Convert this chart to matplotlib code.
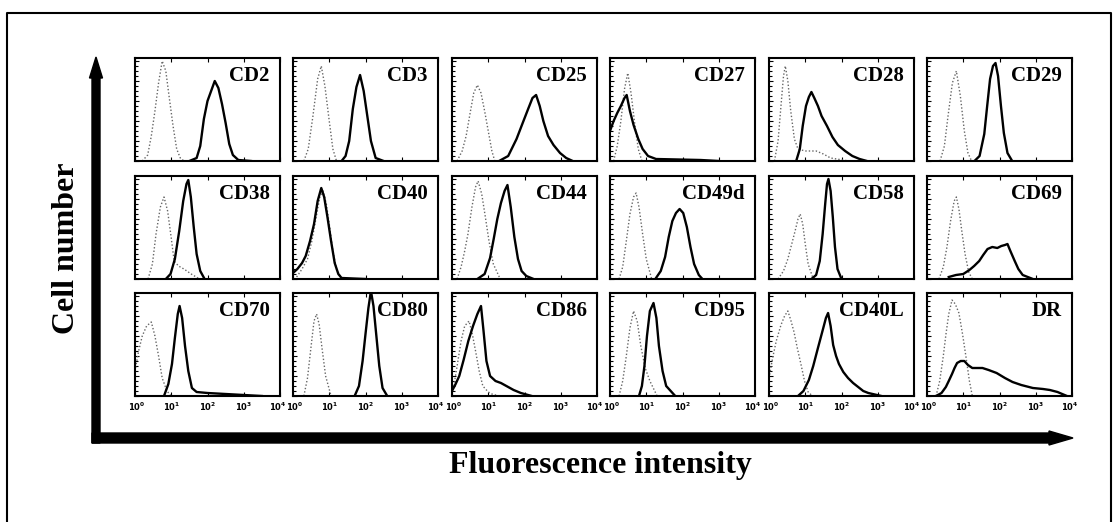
import matplotlib.pyplot as plt
import matplotlib.transforms as mtransforms
import numpy as np

plt.rcParams['font.family'] = ['Liberation Serif', 'DejaVu Serif']

markers = ['CD2', 'CD3', 'CD25', 'CD27', 'CD28', 'CD29',
           'CD38', 'CD40', 'CD44', 'CD49d', 'CD58', 'CD69',
           'CD70', 'CD80', 'CD86', 'CD95', 'CD40L', 'DR']
decade_labels = [r'$\mathbf{10^{%d}}$' % k for k in range(5)]

# points: (log10 fluorescence, relative cell count)
# iso = dotted control curve, stain = solid curve
cd2_iso = [(0.2, 0), (0.35, 0.06), (0.45, 0.25), (0.55, 0.5), (0.65, 0.78), (0.75, 1.0), (0.85, 0.9), (0.95, 0.62), (1.05, 0.35), (1.15, 0.12), (1.25, 0.03), (1.35, 0)]
cd2_stain = [(1.5, 0), (1.7, 0.03), (1.8, 0.15), (1.9, 0.42), (2.0, 0.6), (2.1, 0.7), (2.2, 0.8), (2.3, 0.73), (2.4, 0.57), (2.5, 0.38), (2.6, 0.17), (2.7, 0.06), (2.85, 0.01), (3.2, 0)]
cd3_iso = [(0.3, 0), (0.42, 0.12), (0.55, 0.45), (0.68, 0.82), (0.78, 0.95), (0.88, 0.75), (1.0, 0.4), (1.1, 0.12), (1.2, 0)]
cd3_stain = [(1.34, 0), (1.45, 0.05), (1.55, 0.2), (1.65, 0.52), (1.75, 0.74), (1.85, 0.86), (1.95, 0.7), (2.05, 0.45), (2.15, 0.2), (2.28, 0.03), (2.5, 0)]
cd25_iso = [(0.14, 0), (0.28, 0.1), (0.39, 0.25), (0.5, 0.48), (0.6, 0.68), (0.7, 0.76), (0.8, 0.68), (0.9, 0.5), (1.0, 0.3), (1.1, 0.1), (1.18, 0)]
cd25_stain = [(1.3, 0), (1.55, 0.05), (1.78, 0.22), (1.95, 0.38), (2.1, 0.52), (2.22, 0.63), (2.32, 0.66), (2.42, 0.55), (2.52, 0.4), (2.65, 0.25), (2.8, 0.16), (2.98, 0.08), (3.15, 0.03), (3.33, 0)]
cd27_iso = [(0.1, 0), (0.2, 0.15), (0.3, 0.4), (0.4, 0.72), (0.49, 0.88), (0.58, 0.68), (0.68, 0.38), (0.78, 0.12), (0.88, 0)]
cd27_stain = [(0.0, 0.3), (0.1, 0.4), (0.2, 0.48), (0.3, 0.55), (0.4, 0.63), (0.46, 0.66), (0.55, 0.5), (0.65, 0.36), (0.78, 0.22), (0.9, 0.12), (1.05, 0.05), (1.27, 0.02), (2.5, 0.01), (3.0, 0)]
cd28_iso = [(0.15, 0), (0.25, 0.2), (0.33, 0.55), (0.4, 0.85), (0.45, 0.95), (0.52, 0.8), (0.6, 0.5), (0.7, 0.22), (0.8, 0.12), (1.0, 0.1), (1.3, 0.1), (1.5, 0.07), (1.7, 0.03), (2.2, 0)]
cd28_stain = [(0.75, 0), (0.85, 0.12), (0.93, 0.35), (1.02, 0.55), (1.1, 0.64), (1.17, 0.69), (1.25, 0.63), (1.35, 0.55), (1.45, 0.45), (1.6, 0.35), (1.75, 0.24), (1.9, 0.16), (2.1, 0.1), (2.3, 0.05), (2.5, 0.02), (2.7, 0)]
cd29_iso = [(0.36, 0), (0.48, 0.15), (0.58, 0.45), (0.7, 0.78), (0.81, 0.9), (0.92, 0.65), (1.03, 0.3), (1.13, 0.08), (1.23, 0)]
cd29_stain = [(1.31, 0), (1.45, 0.05), (1.58, 0.27), (1.66, 0.55), (1.74, 0.82), (1.82, 0.95), (1.89, 0.98), (1.96, 0.85), (2.04, 0.55), (2.12, 0.28), (2.22, 0.08), (2.35, 0)]
cd38_iso = [(0.36, 0), (0.48, 0.15), (0.58, 0.45), (0.7, 0.72), (0.8, 0.82), (0.9, 0.68), (1.0, 0.41), (1.08, 0.18), (1.2, 0.13), (1.35, 0.1), (1.55, 0.05), (1.78, 0)]
cd38_stain = [(0.85, 0), (0.98, 0.05), (1.1, 0.2), (1.22, 0.48), (1.33, 0.78), (1.42, 0.95), (1.47, 0.99), (1.54, 0.82), (1.62, 0.52), (1.7, 0.25), (1.8, 0.08), (1.92, 0)]
cd40_iso = [(0.1, 0.02), (0.25, 0.1), (0.4, 0.2), (0.52, 0.38), (0.63, 0.6), (0.74, 0.82), (0.83, 0.88), (0.92, 0.75), (1.0, 0.55), (1.1, 0.28), (1.2, 0.1), (1.3, 0.03), (1.4, 0)]
cd40_stain = [(0.0, 0.06), (0.12, 0.1), (0.25, 0.16), (0.35, 0.23), (0.47, 0.38), (0.58, 0.55), (0.68, 0.78), (0.78, 0.91), (0.86, 0.82), (0.95, 0.62), (1.05, 0.38), (1.15, 0.16), (1.25, 0.05), (1.34, 0.01), (2.0, 0)]
cd44_iso = [(0.14, 0), (0.25, 0.12), (0.35, 0.28), (0.44, 0.45), (0.55, 0.72), (0.65, 0.92), (0.72, 0.98), (0.82, 0.85), (0.92, 0.62), (1.02, 0.38), (1.14, 0.15), (1.33, 0)]
cd44_stain = [(0.7, 0), (0.9, 0.05), (1.05, 0.21), (1.15, 0.4), (1.25, 0.6), (1.35, 0.76), (1.45, 0.88), (1.53, 0.94), (1.62, 0.72), (1.72, 0.42), (1.82, 0.2), (1.92, 0.08), (2.05, 0.03), (2.25, 0)]
cd49d_iso = [(0.25, 0), (0.35, 0.12), (0.45, 0.38), (0.55, 0.65), (0.65, 0.82), (0.72, 0.86), (0.8, 0.72), (0.9, 0.45), (1.0, 0.2), (1.15, 0)]
cd49d_stain = [(1.25, 0), (1.4, 0.08), (1.52, 0.22), (1.62, 0.42), (1.72, 0.58), (1.82, 0.66), (1.92, 0.7), (2.02, 0.66), (2.12, 0.52), (2.22, 0.32), (2.32, 0.15), (2.45, 0.04), (2.55, 0)]
cd58_iso = [(0.25, 0), (0.4, 0.08), (0.52, 0.2), (0.62, 0.34), (0.72, 0.48), (0.8, 0.6), (0.86, 0.65), (0.93, 0.55), (1.0, 0.35), (1.08, 0.15), (1.22, 0)]
cd58_stain = [(1.17, 0), (1.3, 0.04), (1.4, 0.18), (1.48, 0.45), (1.55, 0.75), (1.6, 0.95), (1.64, 1.0), (1.7, 0.88), (1.76, 0.62), (1.82, 0.32), (1.89, 0.1), (2.0, 0)]
cd69_iso = [(0.33, 0), (0.45, 0.12), (0.55, 0.32), (0.65, 0.58), (0.75, 0.78), (0.81, 0.82), (0.88, 0.7), (0.96, 0.48), (1.05, 0.25), (1.15, 0.07), (1.25, 0)]
cd69_stain = [(0.6, 0.02), (0.8, 0.04), (1.0, 0.05), (1.17, 0.09), (1.3, 0.13), (1.44, 0.18), (1.55, 0.24), (1.67, 0.3), (1.8, 0.32), (1.94, 0.31), (2.05, 0.33), (2.15, 0.34), (2.22, 0.35), (2.3, 0.28), (2.42, 0.18), (2.52, 0.1), (2.64, 0.04), (2.92, 0)]
cd70_iso = [(0.0, 0.25), (0.1, 0.45), (0.2, 0.6), (0.32, 0.7), (0.45, 0.74), (0.55, 0.6), (0.65, 0.4), (0.75, 0.18), (0.88, 0.05), (1.0, 0)]
cd70_stain = [(0.8, 0), (0.92, 0.12), (1.02, 0.32), (1.1, 0.58), (1.18, 0.82), (1.23, 0.9), (1.3, 0.78), (1.38, 0.5), (1.47, 0.25), (1.57, 0.08), (1.7, 0.04), (2.0, 0.03), (2.5, 0.02), (3.0, 0.01), (3.5, 0)]
cd80_iso = [(0.3, 0), (0.4, 0.18), (0.5, 0.5), (0.58, 0.75), (0.65, 0.82), (0.72, 0.72), (0.8, 0.48), (0.9, 0.2), (1.05, 0)]
cd80_stain = [(1.7, 0), (1.82, 0.1), (1.92, 0.35), (2.0, 0.62), (2.08, 0.88), (2.15, 1.05), (2.22, 0.9), (2.3, 0.6), (2.38, 0.3), (2.47, 0.08), (2.6, 0)]
cd86_iso = [(0.05, 0.1), (0.15, 0.32), (0.25, 0.55), (0.35, 0.7), (0.47, 0.75), (0.56, 0.62), (0.65, 0.45), (0.75, 0.25), (0.85, 0.1), (1.0, 0.04), (1.1, 0.02), (1.3, 0)]
cd86_stain = [(0.0, 0.05), (0.1, 0.12), (0.2, 0.2), (0.32, 0.36), (0.45, 0.55), (0.58, 0.7), (0.7, 0.82), (0.8, 0.9), (0.87, 0.65), (0.95, 0.35), (1.05, 0.2), (1.2, 0.15), (1.35, 0.13), (1.5, 0.1), (1.7, 0.06), (1.9, 0.03), (2.2, 0)]
cd95_iso = [(0.25, 0), (0.35, 0.15), (0.45, 0.4), (0.55, 0.68), (0.65, 0.85), (0.75, 0.75), (0.85, 0.5), (0.97, 0.28), (1.1, 0.15), (1.3, 0)]
cd95_stain = [(0.8, 0), (0.88, 0.1), (0.95, 0.3), (1.02, 0.6), (1.1, 0.85), (1.2, 0.93), (1.28, 0.78), (1.35, 0.5), (1.45, 0.25), (1.55, 0.1), (1.8, 0)]
cd40l_iso = [(0.0, 0.18), (0.1, 0.38), (0.2, 0.55), (0.33, 0.71), (0.43, 0.8), (0.52, 0.85), (0.6, 0.76), (0.69, 0.64), (0.78, 0.48), (0.88, 0.32), (0.98, 0.15), (1.08, 0.04), (1.2, 0)]
cd40l_stain = [(0.8, 0), (0.95, 0.05), (1.1, 0.16), (1.22, 0.3), (1.35, 0.48), (1.49, 0.67), (1.57, 0.78), (1.63, 0.83), (1.7, 0.7), (1.77, 0.51), (1.85, 0.4), (1.93, 0.32), (2.05, 0.24), (2.18, 0.18), (2.32, 0.13), (2.46, 0.09), (2.6, 0.05), (2.74, 0.03), (3.1, 0)]
dr_iso = [(0.25, 0), (0.35, 0.15), (0.45, 0.4), (0.52, 0.61), (0.6, 0.82), (0.69, 0.96), (0.78, 0.92), (0.88, 0.83), (0.98, 0.62), (1.08, 0.38), (1.17, 0.15), (1.25, 0)]
dr_stain = [(0.25, 0), (0.4, 0.03), (0.52, 0.09), (0.6, 0.15), (0.69, 0.22), (0.76, 0.28), (0.83, 0.33), (0.93, 0.35), (1.03, 0.35), (1.13, 0.31), (1.25, 0.28), (1.4, 0.28), (1.53, 0.28), (1.7, 0.26), (1.92, 0.23), (2.15, 0.18), (2.36, 0.14), (2.6, 0.11), (2.92, 0.08), (3.2, 0.07), (3.39, 0.06), (3.6, 0.04), (3.86, 0)]

curves = {
    'CD2': (cd2_iso, cd2_stain), 'CD3': (cd3_iso, cd3_stain),
    'CD25': (cd25_iso, cd25_stain), 'CD27': (cd27_iso, cd27_stain),
    'CD28': (cd28_iso, cd28_stain), 'CD29': (cd29_iso, cd29_stain),
    'CD38': (cd38_iso, cd38_stain), 'CD40': (cd40_iso, cd40_stain),
    'CD44': (cd44_iso, cd44_stain), 'CD49d': (cd49d_iso, cd49d_stain),
    'CD58': (cd58_iso, cd58_stain), 'CD69': (cd69_iso, cd69_stain),
    'CD70': (cd70_iso, cd70_stain), 'CD80': (cd80_iso, cd80_stain),
    'CD86': (cd86_iso, cd86_stain), 'CD95': (cd95_iso, cd95_stain),
    'CD40L': (cd40l_iso, cd40l_stain), 'DR': (dr_iso, dr_stain),
}

W, H = 1115, 522
fig = plt.figure(figsize=(W / 100, H / 100), dpi=100)

# overlay in pixel units for the frame, arrows and axis titles
ov = fig.add_axes([0, 0, 1, 1])
ov.set_xlim(0, W)
ov.set_ylim(H, 0)
ov.axis('off')
ov.plot([7, 7, 1111, 1111], [H + 2, 13, 13, H + 2], color='k', lw=1.5)
ov.arrow(96, 443, 0, -386, width=8, head_width=13, head_length=21,
         length_includes_head=True, fc='k', ec='k')
ov.arrow(92, 438, 981, 0, width=10, head_width=14, head_length=24,
         length_includes_head=True, fc='k', ec='k')
ov.text(66, 248, 'Cell number', rotation=90, ha='center', va='center',
        fontsize=23, fontweight='bold')
ov.text(600, 465, 'Fluorescence intensity', ha='center', va='center',
        fontsize=23, fontweight='bold')

col_left = [135, 293, 452, 610, 769, 927]
row_top = [58, 176, 293]
pw, ph = 145, 103

for i, m in enumerate(markers):
    r, c = divmod(i, 6)
    ax = fig.add_axes([col_left[c] / W, 1 - (row_top[r] + ph) / H, pw / W, ph / H])
    iso, stain = curves[m]
    ix, iy = zip(*iso)
    sx, sy = zip(*stain)
    ax.plot(10 ** np.array(ix), iy, linestyle=(0, (1, 1.5)), color='0.4', lw=1.0)
    ax.plot(10 ** np.array(sx), sy, color='k', lw=1.7)
    ax.set_xscale('log')
    ax.set_xlim(1, 1e4)
    ax.set_ylim(0, 1.03)
    for s in ax.spines.values():
        s.set_linewidth(1.5)
    ax.set_yticks(np.linspace(0, 1, 6))
    ax.set_yticks(np.linspace(0, 1, 21), minor=True)
    ax.tick_params(which='both', direction='in', length=3, width=0.8,
                   top=True, labelleft=False)
    ax.tick_params(which='minor', length=2)
    ax.text(0.93, 0.83, m, transform=ax.transAxes, ha='right', va='center',
            fontsize=15, fontweight='bold')
    ax.set_xticks([1, 10, 100, 1e3, 1e4])
    if r == 2:
        ax.set_xticklabels(decade_labels, fontsize=6)
        ax.tick_params(axis='x', pad=3)
        # nudge the end labels so neighbouring panels' labels don't collide
        tl = ax.get_xticklabels()
        tl[0].set_transform(tl[0].get_transform() + mtransforms.ScaledTranslation(1.5 / 72, 0, fig.dpi_scale_trans))
        tl[-1].set_transform(tl[-1].get_transform() + mtransforms.ScaledTranslation(-1.5 / 72, 0, fig.dpi_scale_trans))
    else:
        ax.tick_params(labelbottom=False)

fig.savefig('out.png', dpi=100)
